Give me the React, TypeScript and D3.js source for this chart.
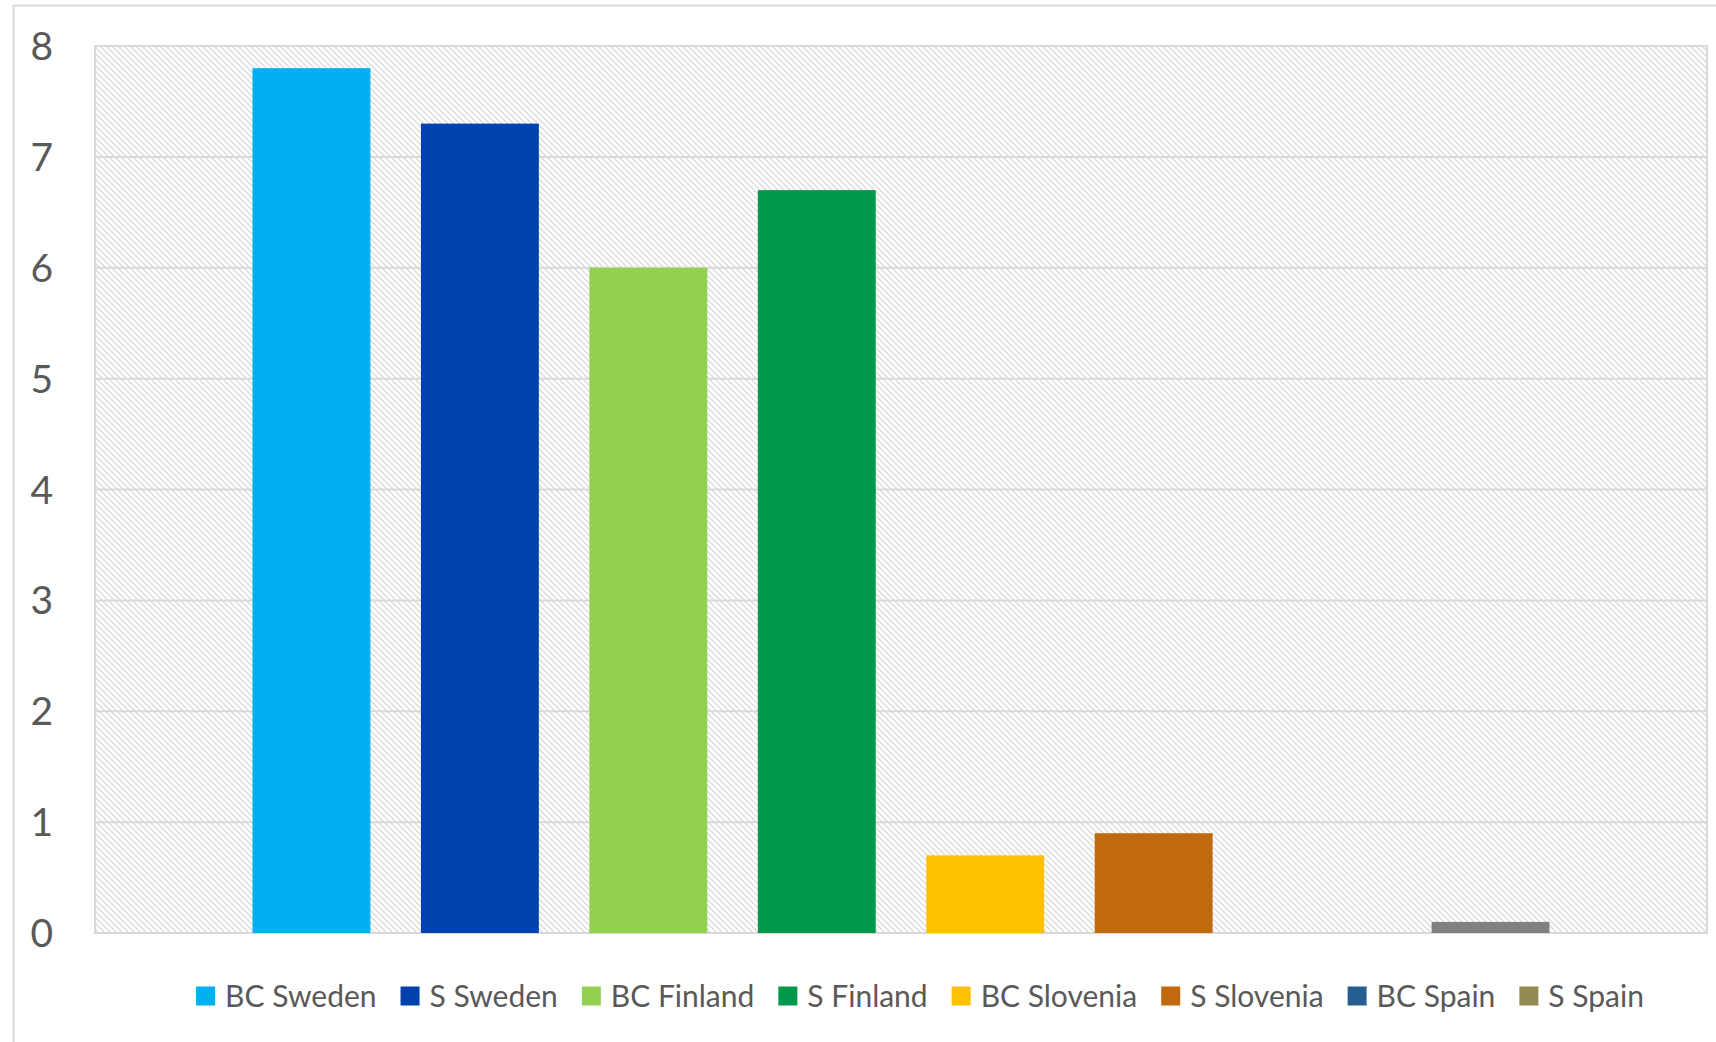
import React, { useMemo } from "react";
import * as d3 from "d3";

const seriesNames = ["BC Sweden", "S Sweden", "BC Finland", "S Finland", "BC Slovenia", "S Slovenia", "BC Spain", "S Spain"];
const seriesValues = [7.8, 7.3, 6.0, 6.7, 0.7, 0.9, 0, 0.1];
const legendColors = ["#00B0F0", "#0041B0", "#92D050", "#00994C", "#FFC000", "#C0690F", "#255E91", "#948A54"];
const barColors = ["#00B0F0", "#0041B0", "#92D050", "#00994C", "#FFC000", "#C0690F", "#255E91", "#808080"];
const yTicks = [0, 1, 2, 3, 4, 5, 6, 7, 8];

const W = 1716;
const H = 1042;
const plot = { left: 95, right: 1707, top: 46, bottom: 933 };
const FONT = "Lato, 'Open Sans', sans-serif";
const textColor = "#595959";
const gridColor = "#D9D9D9";

function measure(text: string, size: number): number {
  const c = document.createElement("canvas");
  const ctx = c.getContext("2d");
  if (!ctx) return text.length * size * 0.5;
  ctx.font = `${size}px Lato`;
  return ctx.measureText(text).width;
}

export default function App() {
  const x = d3.scaleBand<string>().domain(seriesNames).range([plot.left, plot.right]).paddingInner(0.3).paddingOuter(0.935);
  const y = d3.scaleLinear().domain([0, 8]).range([plot.bottom, plot.top]);

  const legendFont = 30;
  const sq = 19;
  const gapAfterSq = 10;
  const gapItems = 24;
  const legendItems = useMemo(() => {
    const widths = seriesNames.map((n) => measure(n, legendFont));
    const itemW = widths.map((w) => sq + gapAfterSq + w);
    const total = d3.sum(itemW) + gapItems * (seriesNames.length - 1);
    let cx = 920 - total / 2;
    return seriesNames.map((n, i) => {
      const item = { name: n, x: cx, color: legendColors[i] };
      cx += itemW[i] + gapItems;
      return item;
    });
  }, []);

  const legendY = 996;

  return (
    <svg width={W} height={H} style={{ position: "absolute", left: 0, top: 0, display: "block", background: "#fff" }}>
      <defs>
        <pattern id="hatch" width={6} height={6} patternUnits="userSpaceOnUse">
          <rect width={6} height={6} fill="#ffffff" />
          <path d="M-1.5,-1.5 L7.5,7.5 M-1.5,4.5 L1.5,7.5 M4.5,-1.5 L7.5,1.5" stroke="#dcdcdc" strokeWidth={1.4} />
        </pattern>
      </defs>
      {/* outer chart border */}
      <path d={`M13.5,${H} L13.5,5.5 L${W},5.5`} fill="none" stroke={gridColor} strokeWidth={2} />
      {/* plot background */}
      <rect x={plot.left} y={plot.top} width={plot.right - plot.left} height={plot.bottom - plot.top} fill="url(#hatch)" />
      {/* gridlines */}
      {yTicks.map((t) => (
        <line key={t} x1={plot.left} x2={plot.right} y1={y(t)} y2={y(t)} stroke={gridColor} strokeWidth={2} />
      ))}
      <rect x={plot.left} y={plot.top} width={plot.right - plot.left} height={plot.bottom - plot.top} fill="none" stroke={gridColor} strokeWidth={2} />
      {/* bars */}
      {seriesNames.map((n, i) => (
        <rect key={n} x={x(n)} y={y(seriesValues[i])} width={x.bandwidth()} height={y(0) - y(seriesValues[i])} fill={barColors[i]} />
      ))}
      {/* y labels */}
      {yTicks.map((t) => (
        <text key={t} x={53} y={y(t)} dy="0.36em" textAnchor="end" fontFamily={FONT} fontSize={39} fill={textColor}>
          {t}
        </text>
      ))}
      {/* legend */}
      {legendItems.map((it) => (
        <g key={it.name}>
          <rect x={it.x} y={legendY - sq / 2} width={sq} height={sq} fill={it.color} />
          <text x={it.x + sq + gapAfterSq} y={legendY} dy="0.36em" fontFamily={FONT} fontSize={legendFont} fill={textColor}>
            {it.name}
          </text>
        </g>
      ))}
    </svg>
  );
}
